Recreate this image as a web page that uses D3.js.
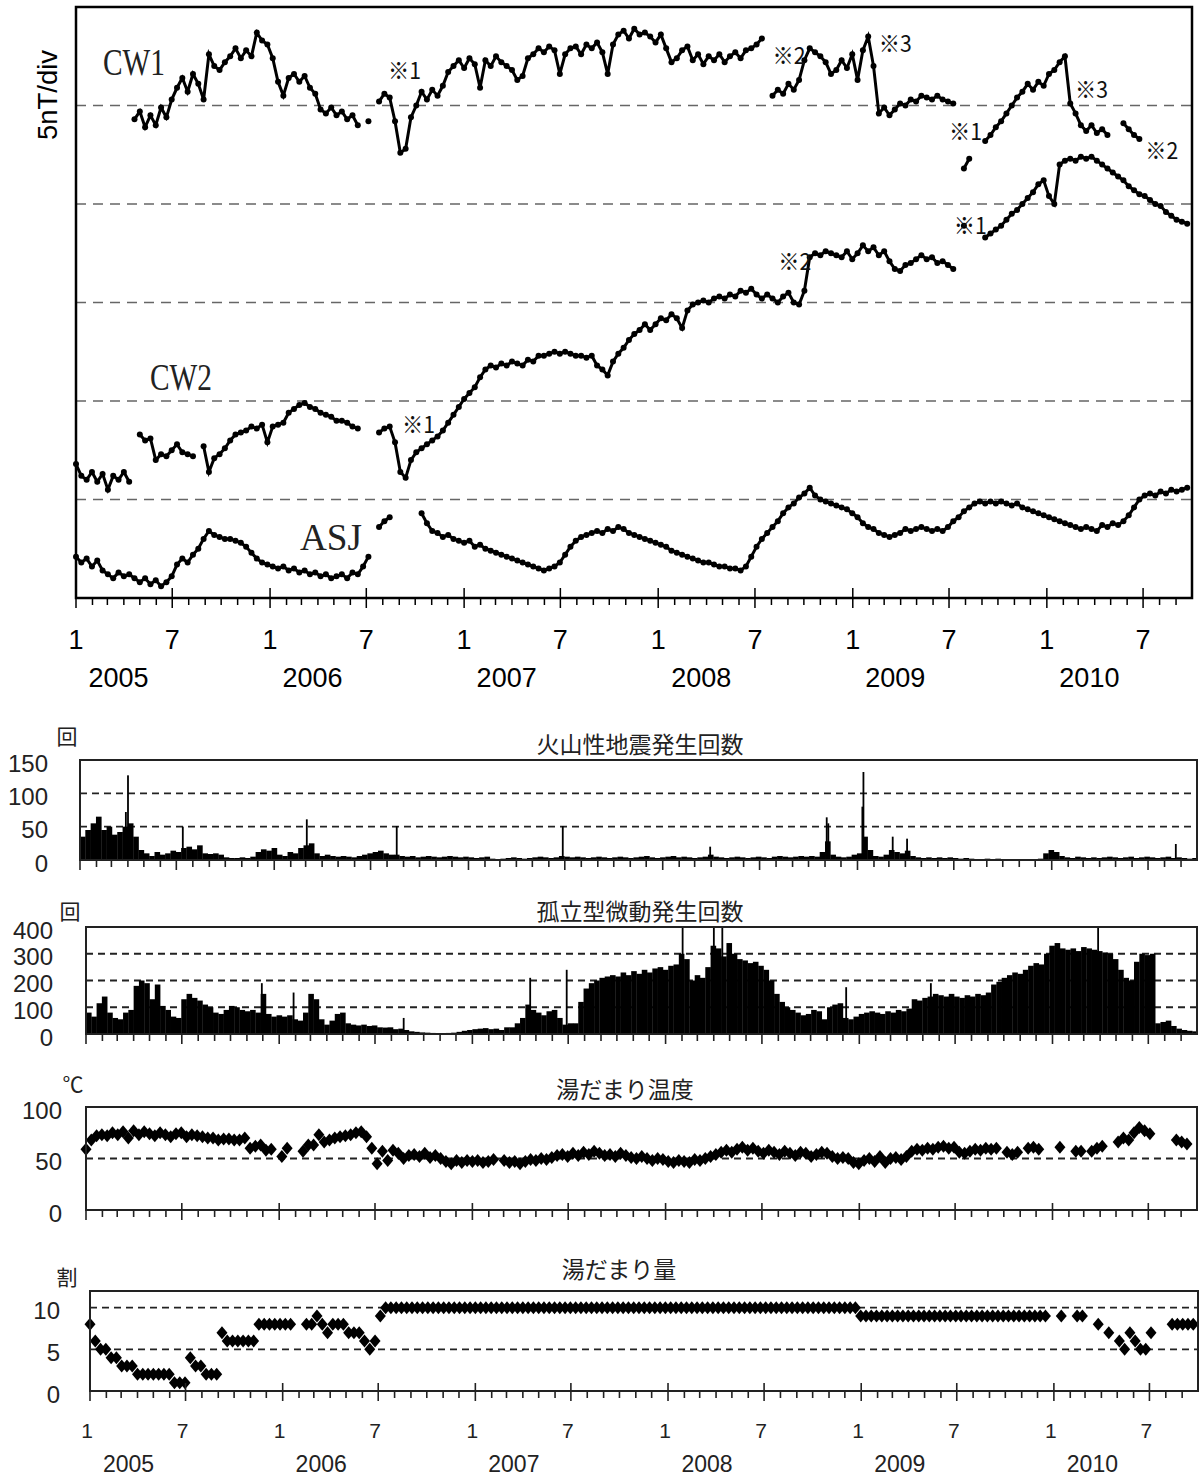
<!DOCTYPE html>
<html>
<head>
<meta charset="utf-8">
<script src="https://cdn.jsdelivr.net/npm/d3@7"></script>
<style>
  body { margin: 0; background: #fff; }
  svg { display: block; }
</style>
</head>
<body>
<svg id="chart" width="1200" height="1478"></svg>
<script>
// Todas as séries: uma leitura a cada 10 dias a partir de 1/1/2005 (null = sem dado)
const inicio = new Date(2005, 0, 1);
const fim = new Date(2010, 9, 1);
const anos = [2005, 2006, 2007, 2008, 2009, 2010];

// Magnetômetros (nT, 5 nT por divisão)
const cw1 = [
  null,null,null,null,null,null,null,null,null,null,
  null,24.3,24.7,23.9,24.5,24.0,24.9,24.4,25.3,25.9,
  26.4,25.7,26.6,26.1,25.3,27.6,27.0,26.8,27.2,27.5,
  27.9,27.4,27.8,27.5,28.7,28.3,28.1,27.4,26.2,25.5,
  26.4,26.6,26.2,26.5,25.9,25.6,24.8,24.6,24.9,24.5,
  24.7,24.3,24.5,24.0,null,24.2,null,25.2,25.6,25.4,
  24.2,22.6,22.8,24.4,25.0,25.7,25.3,25.8,25.5,26.0,
  26.7,27.0,27.3,26.9,27.4,27.1,25.9,27.3,27.0,27.5,
  27.2,27.0,26.8,26.3,26.5,27.4,27.6,27.9,27.7,28.0,
  27.8,26.6,27.6,27.9,28.0,27.6,28.1,27.9,28.2,27.7,
  26.6,28.1,28.6,28.8,28.4,28.9,28.6,28.7,28.5,28.2,
  28.6,27.9,27.2,27.4,27.8,28.0,27.3,27.6,27.1,27.5,
  27.3,27.6,27.2,27.5,27.7,27.4,27.8,27.9,28.1,28.4,
  null,25.5,25.8,25.6,26.1,25.8,26.3,27.3,27.9,27.7,
  27.5,27.2,26.6,26.8,27.3,26.9,27.6,26.3,27.8,28.5,
  27.0,24.6,24.9,24.5,24.8,25.1,25.0,25.3,25.2,25.5,
  25.4,25.3,25.5,25.3,25.2,25.1,null,21.8,22.3,null,
  null,23.2,23.5,23.9,24.2,24.6,25.0,25.4,25.7,26.1,
  25.8,26.2,26.0,26.6,26.8,27.2,27.5,25.1,24.6,24.0,
  23.7,24.0,23.6,23.8,23.5,null,null,24.1,23.8,23.5,
  23.3,null,null,null,null,null,null,null,null,null
];
const cw2 = [
  6.8,6.2,6.0,6.4,5.9,6.3,5.5,6.2,6.0,6.4,
  5.9,null,8.3,8.0,8.1,7.0,7.3,7.2,7.5,7.8,
  7.4,7.3,7.2,null,7.7,6.4,7.1,7.3,7.6,8.0,
  8.3,8.4,8.5,8.7,8.6,8.8,7.9,8.7,8.8,8.9,
  9.4,9.6,9.8,9.9,9.7,9.6,9.4,9.3,9.2,9.0,
  9.0,8.9,8.7,8.6,null,null,null,8.4,8.6,8.7,
  7.9,6.4,6.1,7.0,7.4,7.6,7.8,8.0,8.2,8.5,
  8.9,9.3,9.7,10.1,10.4,10.7,11.2,11.6,11.8,11.7,
  11.9,11.8,12.0,11.9,11.8,12.1,12.0,12.3,12.3,12.4,
  12.5,12.4,12.5,12.4,12.3,12.3,12.2,12.3,11.8,11.6,
  11.3,12.0,12.4,12.7,13.1,13.4,13.6,13.9,13.6,13.9,
  14.2,14.1,14.4,14.2,13.7,14.6,14.9,15.0,15.1,15.0,
  15.2,15.3,15.2,15.4,15.3,15.6,15.5,15.7,15.4,15.2,
  15.4,15.2,15.0,15.3,15.5,15.0,14.9,15.6,17.3,17.5,
  17.4,17.6,17.5,17.4,17.3,17.6,17.2,17.5,17.9,17.6,
  17.8,17.4,17.6,17.1,16.7,16.6,16.9,17.0,17.2,17.4,
  17.2,17.3,17.0,17.1,16.9,16.7,null,18.9,null,null,
  null,18.3,18.5,18.7,18.9,19.2,19.5,19.7,20.0,20.3,
  20.6,21.0,21.2,20.4,20.0,22.0,22.2,22.3,22.2,22.4,
  22.3,22.4,22.2,22.0,21.8,21.6,21.4,21.2,20.9,20.7,
  20.5,20.4,20.2,20.0,19.9,19.6,19.4,19.2,19.1,19.0
];
const asj = [
  2.1,1.8,2.0,1.6,1.9,1.4,1.2,1.0,1.3,1.1,
  1.2,1.0,0.8,1.0,0.7,0.9,0.6,0.8,1.1,1.7,
  2.0,1.8,2.2,2.5,3.0,3.4,3.2,3.1,3.0,3.0,
  2.9,2.8,2.6,2.3,2.0,1.8,1.7,1.6,1.5,1.6,
  1.4,1.5,1.3,1.4,1.2,1.3,1.1,1.2,1.0,1.1,
  1.2,1.0,1.3,1.2,1.6,2.1,null,3.6,3.9,4.1,
  null,null,null,null,null,4.3,3.8,3.4,3.3,3.1,
  3.2,3.0,2.9,2.8,2.9,2.6,2.7,2.5,2.4,2.3,
  2.2,2.1,2.0,1.9,1.8,1.7,1.6,1.5,1.4,1.5,
  1.6,1.8,2.2,2.6,2.9,3.1,3.2,3.3,3.4,3.3,
  3.5,3.4,3.6,3.5,3.3,3.2,3.1,3.0,2.9,2.8,
  2.7,2.6,2.4,2.3,2.2,2.1,2.0,1.9,1.8,1.8,
  1.7,1.6,1.6,1.5,1.5,1.4,1.6,2.1,2.6,3.0,
  3.3,3.6,3.9,4.3,4.6,4.8,5.1,5.3,5.6,5.2,
  5.0,4.9,4.8,4.7,4.6,4.5,4.3,4.1,3.8,3.6,
  3.5,3.3,3.2,3.1,3.2,3.3,3.5,3.4,3.5,3.6,
  3.5,3.4,3.5,3.4,3.6,3.9,4.1,4.4,4.6,4.8,
  4.9,4.8,4.9,4.8,4.9,4.8,4.7,4.8,4.6,4.5,
  4.4,4.3,4.2,4.1,4.0,3.9,3.8,3.7,3.6,3.5,
  3.6,3.5,3.4,3.7,3.6,3.8,3.7,3.9,4.2,4.6,
  5.0,5.2,5.3,5.2,5.4,5.3,5.5,5.4,5.5,5.6
];

// Notas ※ (data de ancoragem, valor na linha de base, texto)
const notas = [
  ["2006-08-11", 26.35, "※1"], ["2006-09-06", 8.4, "※1"],
  ["2008-08-03", 27.1, "※2"], ["2009-02-19", 27.7, "※3"],
  ["2009-07-01", 23.25, "※1"], ["2010-02-23", 25.4, "※3"],
  ["2010-07-05", 22.3, "※2"], ["2009-07-10", 18.5, "※1"],
  ["2008-08-14", 16.65, "※2"]
];

// Sismos vulcânicos (contagem)
const sismos = [
  35,45,55,65,45,50,38,42,50,55, 35,15,10,6,12,8,10,14,12,18,
  20,16,22,10,9,10,8,4,3,3, 4,3,5,12,16,14,18,8,6,12,
  10,18,22,25,10,6,8,6,5,6, 5,4,6,8,10,12,14,10,8,8,
  6,5,6,4,5,6,5,4,5,6, 5,4,5,4,3,4,5,2,1,2,
  3,4,3,2,3,4,5,4,3,4, 6,5,4,5,4,3,4,5,4,3,
  4,5,4,3,4,5,6,4,3,4, 5,6,4,5,4,3,4,5,8,5,
  4,3,4,5,4,3,4,5,4,3, 5,6,5,4,5,6,5,6,5,12,
  28,8,5,4,5,8,10,35,15,6, 5,8,15,12,10,14,6,4,3,4,
  3,4,3,4,3,2,3,2,1,1, 2,1,2,1,1,1,0,0,0,1,
  2,10,15,12,6,4,3,5,4,3, 4,3,4,5,4,3,4,5,3,4,
  5,4,3,4,5,3,4,3,2,3
];
const sismosPicos = [
  ["2005-03-28", 72], ["2005-04-01", 127], ["2005-07-13", 50], ["2006-03-03", 61],
  ["2006-08-19", 51], ["2007-06-27", 51], ["2008-03-30", 20], ["2008-11-04", 64],
  ["2008-11-07", 55], ["2009-01-10", 80], ["2009-01-12", 132], ["2009-03-08", 35],
  ["2009-04-04", 32], ["2010-08-22", 24]
];

// Tremores isolados (contagem)
const tremores = [
  80,65,115,140,80,60,55,80,90,180, 200,190,130,185,105,90,65,60,130,150,
  135,125,110,100,80,75,90,105,100,90, 85,90,80,150,75,65,70,65,70,55,
  50,80,150,130,55,35,50,75,80,40, 35,32,35,30,32,25,24,25,18,20,
  15,10,8,6,5,4,3,3,4,5, 8,12,15,18,20,22,18,20,15,25,
  25,40,60,110,90,80,70,85,90,60, 35,40,40,120,170,190,200,210,215,220,
  215,230,220,235,225,240,230,245,250,240, 255,260,300,280,200,220,210,250,330,320,
  290,340,300,280,275,265,270,255,240,200, 150,120,100,90,80,70,75,90,85,55,
  100,110,115,60,55,65,75,80,85,80, 75,85,80,90,85,95,130,125,135,140,
  150,145,140,150,140,135,145,140,150,145, 155,185,195,210,220,230,225,240,255,265,
  260,300,330,340,320,315,320,310,325,320, 315,310,305,300,280,240,210,200,270,300,
  295,300,40,45,50,30,20,15,12,10
];
const tremoresPicos = [
  ["2005-11-29", 190], ["2006-01-28", 155], ["2006-08-24", 60], ["2007-04-20", 210],
  ["2007-06-28", 240], ["2008-02-02", 400], ["2008-04-01", 400], ["2008-04-17", 400],
  ["2008-12-07", 175], ["2009-05-16", 190], ["2010-03-28", 400]
];

// Temperatura do lago (°C)
const temperatura = [
  59,68,72,73,72,75,73,76,70,77, 73,76,74,72,75,73,71,74,75,71,
  73,72,71,70,70,68,69,69,68,68, 70,60,62,63,58,59,null,52,60,null,
  null,57,63,63,73,66,68,70,71,72, 73,75,76,71,60,45,57,48,58,55,
  50,53,54,52,55,51,53,50,47,45, 48,46,48,47,48,46,47,49,null,48,
  46,47,45,47,49,48,50,49,51,53, 54,52,55,53,56,54,57,55,53,54,
  52,55,53,51,50,52,50,48,50,49, 47,46,48,47,46,49,48,50,52,54,
  56,58,56,59,61,58,60,57,55,58, 56,54,57,55,53,56,55,52,54,56,
  55,52,50,51,50,46,45,48,50,47, 52,46,50,51,49,52,57,59,58,60,
  59,61,62,60,61,56,55,57,59,58, 60,59,60,null,56,54,56,null,60,61,
  59,null,null,null,61,null,null,57,57,null, 57,60,62,null,null,66,70,68,75,80,
  77,74,null,null,null,null,68,66,64,null
];

// Volume do lago (décimos)
const volume = [
  8,6,5,5,4,4,3,3,3,2, 2,2,2,2,2,2,1,1,1,4,
  3,3,2,2,2,7,6,6,6,6, 6,6,8,8,8,8,8,8,8,null,
  null,8,8,9,8,7,8,8,8,7, 7,7,6,5,6,9,10,10,10,10,
  10,10,10,10,10,10,10,10,10,10, 10,10,10,10,10,10,10,10,10,10,
  10,10,10,10,10,10,10,10,10,10, 10,10,10,10,10,10,10,10,10,10,
  10,10,10,10,10,10,10,10,10,10, 10,10,10,10,10,10,10,10,10,10,
  10,10,10,10,10,10,10,10,10,10, 10,10,10,10,10,10,10,10,10,10,
  10,10,10,10,10,10,9,9,9,9, 9,9,9,9,9,9,9,9,9,9,
  9,9,9,9,9,9,9,9,9,9, 9,9,9,9,9,9,9,9,9,9,
  9,9,null,null,9,null,null,9,9,null, null,8,null,7,null,6,5,7,6,5,
  5,7,null,null,null,8,8,8,8,8
];

const dataPasso = i => d3.timeDay.offset(inicio, i * 10);
const parse = d3.timeParse('%Y-%m-%d');
const meses = d3.timeMonth.range(inicio, fim);

const svg = d3.select('#chart');
const fonteNum = '"Liberation Sans", Arial, sans-serif';
const fonteJp = '"Noto Sans CJK JP", sans-serif';

// ---------- Painel magnético ----------
const xMag = d3.scaleTime().domain([inicio, fim]).range([76, 1192]);
const yMag = d3.scaleLinear().domain([0, 30]).range([598, 7]);
const gMag = svg.append('g');

gMag.selectAll('.grade')
  .data([5, 10, 15, 20, 25])
  .join('line')
  .attr('x1', 76).attr('x2', 1192)
  .attr('y1', d => yMag(d)).attr('y2', d => yMag(d))
  .attr('stroke', '#666').attr('stroke-width', 1.4)
  .attr('stroke-dasharray', '10,7');

[cw1, cw2, asj].forEach(serie => {
  const pts = serie.map((v, i) => ({ d: dataPasso(i), v }));
  const linha = d3.line()
    .defined(p => p.v != null)
    .x(p => xMag(p.d))
    .y(p => yMag(p.v));
  gMag.append('path')
    .attr('d', linha(pts))
    .attr('fill', 'none')
    .attr('stroke', '#000')
    .attr('stroke-width', 3);
  gMag.append('g').selectAll('circle')
    .data(pts.filter(p => p.v != null))
    .join('circle')
    .attr('cx', p => xMag(p.d))
    .attr('cy', p => yMag(p.v))
    .attr('r', 3)
    .attr('fill', '#000');
});

// moldura
gMag.append('rect')
  .attr('x', 76).attr('y', 7).attr('width', 1116).attr('height', 591)
  .attr('fill', 'none').attr('stroke', '#000').attr('stroke-width', 2.5);

// marcas do eixo x
gMag.selectAll('.tick')
  .data(meses)
  .join('line')
  .attr('x1', d => xMag(d)).attr('x2', d => xMag(d))
  .attr('y1', d => d.getMonth() % 6 === 0 ? 588 : 598)
  .attr('y2', d => d.getMonth() % 6 === 0 ? 608 : 605)
  .attr('stroke', '#000').attr('stroke-width', 1.5);

gMag.selectAll('.mes')
  .data(meses.filter(d => d.getMonth() % 6 === 0))
  .join('text')
  .attr('x', d => xMag(d)).attr('y', 640)
  .attr('text-anchor', 'middle').attr('dominant-baseline', 'central')
  .attr('font-family', fonteNum).attr('font-size', 27)
  .text(d => d.getMonth() === 0 ? '1' : '7');

gMag.selectAll('.ano')
  .data(anos)
  .join('text')
  .attr('x', d => xMag(new Date(d, 2, 22))).attr('y', 678)
  .attr('text-anchor', 'middle').attr('dominant-baseline', 'central')
  .attr('font-family', fonteNum).attr('font-size', 27)
  .text(d => d);

gMag.append('text')
  .attr('transform', 'translate(47,95) rotate(-90)')
  .attr('text-anchor', 'middle').attr('dominant-baseline', 'central')
  .attr('font-family', fonteNum).attr('font-size', 28)
  .attr('textLength', 90).attr('lengthAdjust', 'spacingAndGlyphs')
  .text('5nT/div');

// nomes das séries
[["CW1", 103, 75], ["CW2", 150, 390], ["ASJ", 300, 550]].forEach(([t, x, y]) => {
  gMag.append('text')
    .attr('x', x).attr('y', y)
    .attr('font-family', '"Liberation Serif", serif').attr('font-size', 38)
    .attr('textLength', 62).attr('lengthAdjust', 'spacingAndGlyphs')
    .attr('fill', '#222')
    .text(t);
});

gMag.selectAll('.nota')
  .data(notas)
  .join('text')
  .attr('x', d => xMag(parse(d[0])))
  .attr('y', d => yMag(d[1]))
  .attr('font-family', fonteJp).attr('font-size', 23)
  .attr('textLength', 33).attr('lengthAdjust', 'spacingAndGlyphs')
  .attr('fill', '#111')
  .text(d => d[2]);

// ---------- Painéis inferiores ----------
function painel(cfg) {
  const g = svg.append('g');
  const x = d3.scaleTime().domain([inicio, fim]).range([cfg.esq, cfg.dir]);
  const y = d3.scaleLinear().domain([0, cfg.max]).range([cfg.base, cfg.topo]);

  g.selectAll('.grade')
    .data(cfg.grade)
    .join('line')
    .attr('x1', cfg.esq).attr('x2', cfg.dir)
    .attr('y1', d => y(d)).attr('y2', d => y(d))
    .attr('stroke', '#222').attr('stroke-width', 1.8)
    .attr('stroke-dasharray', '7,5');

  cfg.desenha(g, x, y);

  g.append('rect')
    .attr('x', cfg.esq).attr('y', cfg.topo)
    .attr('width', cfg.dir - cfg.esq).attr('height', cfg.base - cfg.topo)
    .attr('fill', 'none').attr('stroke', '#222').attr('stroke-width', 2);

  g.selectAll('.tick')
    .data(meses)
    .join('line')
    .attr('x1', d => x(d)).attr('x2', d => x(d))
    .attr('y1', d => d.getMonth() % 6 === 0 ? cfg.base - cfg.acima : cfg.base)
    .attr('y2', d => d.getMonth() % 6 === 0 ? cfg.base + 10 : cfg.base + 7)
    .attr('stroke', '#222').attr('stroke-width', 1.6);

  g.selectAll('.rot')
    .data(cfg.rotulos)
    .join('text')
    .attr('x', cfg.rotX).attr('y', d => y(d) + 3)
    .attr('text-anchor', 'end').attr('dominant-baseline', 'central')
    .attr('font-family', fonteNum).attr('font-size', 24).attr('fill', '#222')
    .text(d => d);

  g.append('text')
    .attr('x', cfg.unidade[1]).attr('y', cfg.unidade[2])
    .attr('text-anchor', 'middle').attr('dominant-baseline', 'central')
    .attr('font-family', fonteJp).attr('font-size', 21).attr('fill', '#222')
    .text(cfg.unidade[0]);

  g.append('text')
    .attr('x', cfg.titulo[1]).attr('y', cfg.titulo[2])
    .attr('text-anchor', 'middle').attr('dominant-baseline', 'central')
    .attr('font-family', fonteJp).attr('font-size', 23).attr('fill', '#222')
    .text(cfg.titulo[0]);

  return x;
}

function barras(valores, picos) {
  return (g, x, y) => {
    g.append('g').selectAll('rect')
      .data(valores.map((v, i) => ({ i, v })))
      .join('rect')
      .attr('x', d => x(dataPasso(d.i)))
      .attr('width', d => x(dataPasso(d.i + 1)) - x(dataPasso(d.i)) + 0.3)
      .attr('y', d => y(d.v))
      .attr('height', d => y(0) - y(d.v))
      .attr('fill', '#000');
    g.append('g').selectAll('rect')
      .data(picos)
      .join('rect')
      .attr('x', d => x(parse(d[0])) - 0.8)
      .attr('width', 1.8)
      .attr('y', d => y(d[1]))
      .attr('height', d => y(0) - y(d[1]))
      .attr('fill', '#000');
  };
}

const losango = (w, h) => `M0,${-h}L${w},0L0,${h}L${-w},0Z`;

function losangos(valores) {
  return (g, x, y) => {
    g.append('g').selectAll('path')
      .data(valores.map((v, i) => ({ i, v })).filter(d => d.v != null))
      .join('path')
      .attr('d', losango(5.5, 6.5))
      .attr('transform', d => `translate(${x(dataPasso(d.i))},${y(d.v)})`)
      .attr('fill', '#000');
  };
}

painel({
  esq: 80, dir: 1197, topo: 760, base: 860, max: 150,
  grade: [50, 100], rotulos: [0, 50, 100, 150], rotX: 48, acima: 0,
  unidade: ['回', 67, 735], titulo: ['火山性地震発生回数', 640, 743],
  desenha: barras(sismos, sismosPicos)
});

painel({
  esq: 86, dir: 1197, topo: 927, base: 1034, max: 400,
  grade: [100, 200, 300], rotulos: [0, 100, 200, 300, 400], rotX: 53, acima: 0,
  unidade: ['回', 70, 910], titulo: ['孤立型微動発生回数', 640, 910],
  desenha: barras(tremores, tremoresPicos)
});

painel({
  esq: 86, dir: 1197, topo: 1107, base: 1210, max: 100,
  grade: [50], rotulos: [0, 50, 100], rotX: 62, acima: 7,
  unidade: ['℃', 73, 1083], titulo: ['湯だまり温度', 625, 1088],
  desenha: losangos(temperatura)
});

const xVol = painel({
  esq: 90, dir: 1198, topo: 1291, base: 1391, max: 12,
  grade: [5, 10], rotulos: [0, 5, 10], rotX: 60, acima: 8,
  unidade: ['割', 67, 1276], titulo: ['湯だまり量', 619, 1268],
  desenha: losangos(volume)
});

// rótulos finais do eixo x
svg.append('g').selectAll('text')
  .data(meses.filter(d => d.getMonth() % 6 === 0))
  .join('text')
  .attr('x', d => xVol(d) - 3).attr('y', 1430)
  .attr('text-anchor', 'middle').attr('dominant-baseline', 'central')
  .attr('font-family', fonteNum).attr('font-size', 21).attr('fill', '#222')
  .text(d => d.getMonth() === 0 ? '1' : '7');

svg.append('g').selectAll('text')
  .data(anos)
  .join('text')
  .attr('x', d => xVol(new Date(d, 2, 15))).attr('y', 1464)
  .attr('text-anchor', 'middle').attr('dominant-baseline', 'central')
  .attr('font-family', fonteNum).attr('font-size', 23).attr('fill', '#222')
  .text(d => d);
</script>
</body>
</html>
